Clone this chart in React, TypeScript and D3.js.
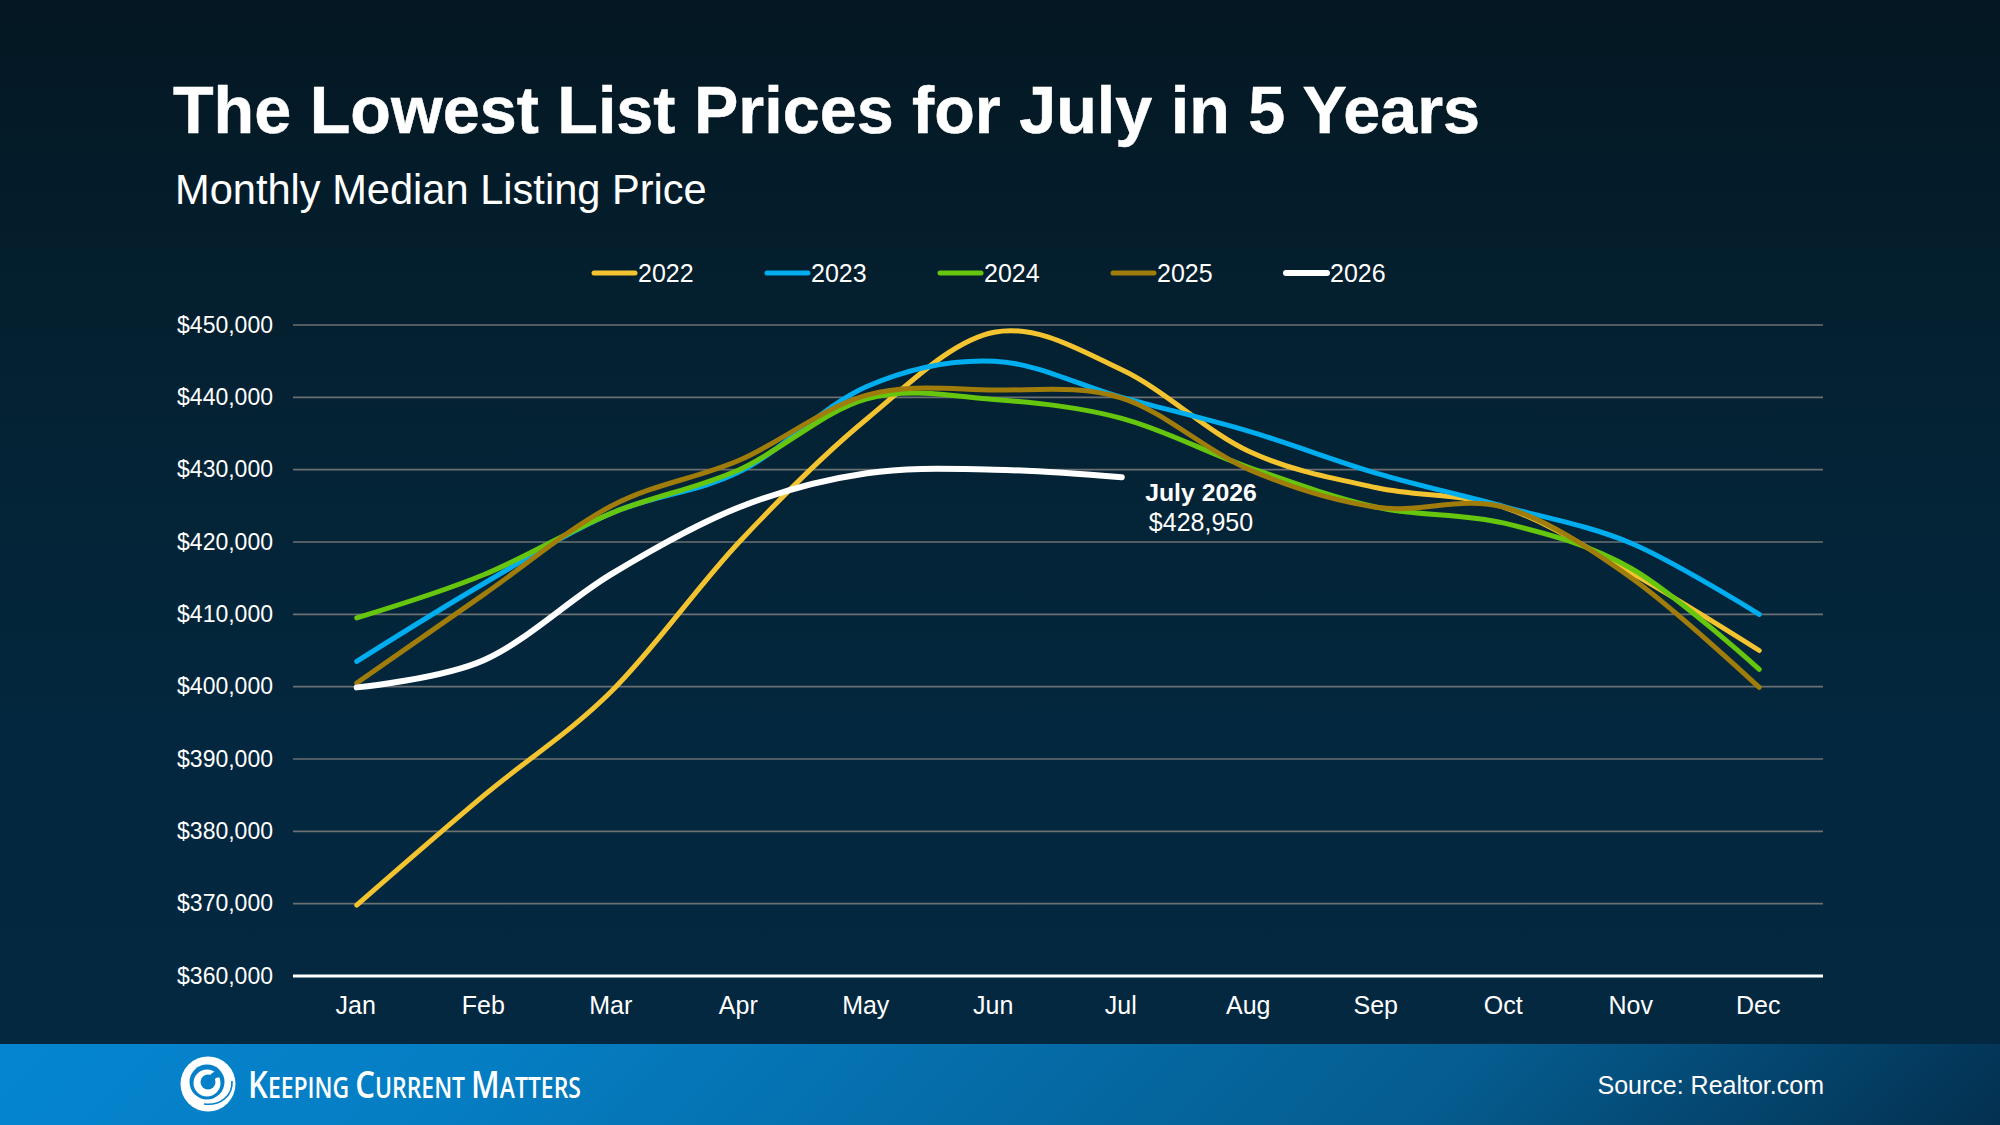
import { useEffect, useRef } from "react";
import * as d3 from "d3";

const months = ["Jan", "Feb", "Mar", "Apr", "May", "Jun", "Jul", "Aug", "Sep", "Oct", "Nov", "Dec"];
const yTicks = [360000, 370000, 380000, 390000, 400000, 410000, 420000, 430000, 440000, 450000];

const years = ["2022", "2023", "2024", "2025", "2026"];
const colors = ["#f4c430", "#00aeef", "#66c60e", "#a07c0a", "#ffffff"];

const v2022 = [369800, 385000, 399400, 420000, 437000, 449000, 443800, 432500, 427500, 424800, 415700, 405000];
const v2023 = [403500, 414300, 424000, 429700, 441500, 445000, 440000, 435300, 429500, 424900, 419800, 410000];
const v2024 = [409500, 415500, 424000, 430000, 439800, 439700, 437100, 430300, 424800, 422600, 416300, 402400];
const v2025 = [400500, 412800, 425000, 431300, 440300, 441000, 439900, 430000, 424800, 424800, 415000, 399900];
const v2026 = [399900, 403700, 415600, 424800, 429500, 430000, 428950];

const series = [v2022, v2023, v2024, v2025, v2026];

export default function App() {
  const svgRef = useRef<SVGSVGElement>(null);

  useEffect(() => {
    if (!svgRef.current) return;
    const font = "'Liberation Sans', Arial, sans-serif";

    const svg = d3.select(svgRef.current);
    svg.selectAll("*").remove();

    const defs = svg.append("defs");
    const bg = defs.append("linearGradient").attr("id", "bg").attr("x1", 0).attr("y1", 0).attr("x2", 0).attr("y2", 1);
    bg.append("stop").attr("offset", "0%").attr("stop-color", "#041722");
    bg.append("stop").attr("offset", "35%").attr("stop-color", "#042233");
    bg.append("stop").attr("offset", "65%").attr("stop-color", "#03273e");
    bg.append("stop").attr("offset", "100%").attr("stop-color", "#032840");
    const foot = defs.append("linearGradient").attr("id", "foot")
      .attr("gradientUnits", "userSpaceOnUse")
      .attr("x1", 0).attr("y1", 1044).attr("x2", 1040).attr("y2", 2084);
    foot.append("stop").attr("offset", "0%").attr("stop-color", "#0585d0");
    foot.append("stop").attr("offset", "25%").attr("stop-color", "#057dc2");
    foot.append("stop").attr("offset", "72%").attr("stop-color", "#055c8f");
    foot.append("stop").attr("offset", "100%").attr("stop-color", "#033050");

    svg.append("rect").attr("width", 2000).attr("height", 1125).attr("fill", "url(#bg)");
    svg.append("rect").attr("y", 1044).attr("width", 2000).attr("height", 81).attr("fill", "url(#foot)");

    svg.append("text")
      .attr("x", 173).attr("y", 133)
      .attr("fill", "#fff").attr("font-family", font).attr("font-weight", 700).attr("font-size", 66.5)
      .attr("stroke", "#fff").attr("stroke-width", 0.5)
      .text("The Lowest List Prices for July in 5 Years");
    svg.append("text")
      .attr("x", 175).attr("y", 204)
      .attr("fill", "#fff").attr("font-family", font).attr("font-size", 41.6)
      .text("Monthly Median Listing Price");

    const xScale = d3.scaleBand().domain(months).range([293, 1823]);
    const yScale = d3.scaleLinear().domain([360000, 450000]).range([976, 325]);
    const xc = (i: number) => (xScale(months[i]) as number) + xScale.bandwidth() / 2;

    const grid = svg.append("g");
    yTicks.forEach((t) => {
      grid.append("line")
        .attr("x1", 293).attr("x2", 1823)
        .attr("y1", yScale(t)).attr("y2", yScale(t))
        .attr("stroke", t === 360000 ? "#ffffff" : "#6b6f72")
        .attr("stroke-width", t === 360000 ? 3 : 1.6);
      svg.append("text")
        .attr("x", 273).attr("y", yScale(t) + 7.5)
        .attr("text-anchor", "end")
        .attr("fill", "#fff").attr("font-family", font).attr("font-size", 23)
        .text(d3.format("$,")(t));
    });

    months.forEach((m, i) => {
      svg.append("text")
        .attr("x", xc(i) - 1).attr("y", 1014)
        .attr("text-anchor", "middle")
        .attr("fill", "#fff").attr("font-family", font).attr("font-size", 25)
        .text(m);
    });

    const line = d3.line<number>()
      .x((_, i) => xc(i))
      .y((d) => yScale(d))
      .curve(d3.curveCardinal.tension(0));

    series.forEach((vals, s) => {
      svg.append("path")
        .attr("d", line(vals))
        .attr("fill", "none")
        .attr("stroke", colors[s])
        .attr("stroke-width", s === 4 ? 6 : 5)
        .attr("stroke-linecap", "round")
        .attr("stroke-linejoin", "round");
    });

    const legendX = [594, 767, 940, 1113, 1286];
    years.forEach((y, i) => {
      svg.append("line")
        .attr("x1", legendX[i]).attr("x2", legendX[i] + 41)
        .attr("y1", 273).attr("y2", 273)
        .attr("stroke", colors[i]).attr("stroke-width", i === 4 ? 6 : 5)
        .attr("stroke-linecap", "round");
      svg.append("text")
        .attr("x", legendX[i] + 44).attr("y", 282)
        .attr("fill", "#fff").attr("font-family", font).attr("font-size", 25)
        .text(y);
    });

    svg.append("text")
      .attr("x", 1201).attr("y", 501)
      .attr("text-anchor", "middle")
      .attr("fill", "#fff").attr("font-family", font).attr("font-weight", 700).attr("font-size", 24.8)
      .text("July 2026");
    svg.append("text")
      .attr("x", 1201).attr("y", 531)
      .attr("text-anchor", "middle")
      .attr("fill", "#fff").attr("font-family", font).attr("font-size", 25)
      .text("$428,950");

    // footer
    svg.append("text")
      .attr("x", 1824).attr("y", 1094)
      .attr("text-anchor", "end")
      .attr("fill", "#fff").attr("font-family", font).attr("font-size", 25)
      .text("Source: Realtor.com");

    // logo swirl, stacked discs with footer blue cut outs
    const cut = "#0580c8";
    const logo = svg.append("g").attr("transform", "translate(208,1084)");
    logo.append("circle").attr("cx", 0).attr("cy", 0).attr("r", 27.5).attr("fill", "#fff");
    logo.append("path").attr("fill", "none").attr("stroke", cut).attr("stroke-width", 1.6)
      .attr("d", "M24,-3 C25,12 12,22 -4,20");
    logo.append("circle").attr("cx", -1).attr("cy", -2).attr("r", 17.5).attr("fill", cut);
    logo.append("circle").attr("cx", -1).attr("cy", -1).attr("r", 13.5).attr("fill", "#fff");
    logo.append("circle").attr("cx", 0).attr("cy", -2).attr("r", 7.5).attr("fill", cut);
    logo.append("path").attr("fill", cut).attr("d", "M2,-9 C8,-15 13,-13 16,-5 C12,-8 8,-7 6,-4 Z");

    const logoText = svg.append("text")
      .attr("transform", "translate(248,1098) scale(0.82,1)")
      .attr("fill", "#fff").attr("font-family", "'Open Sans', sans-serif").attr("font-weight", 600);
    [["K", "EEPING "], ["C", "URRENT "], ["M", "ATTERS"]].forEach(([big, small]) => {
      logoText.append("tspan").attr("font-size", 38).text(big);
      logoText.append("tspan").attr("font-size", 28).text(small);
    });
  }, []);

  return (
    <svg
      ref={svgRef}
      width={2000}
      height={1125}
      style={{ position: "absolute", left: 0, top: 0, display: "block" }}
    />
  );
}
